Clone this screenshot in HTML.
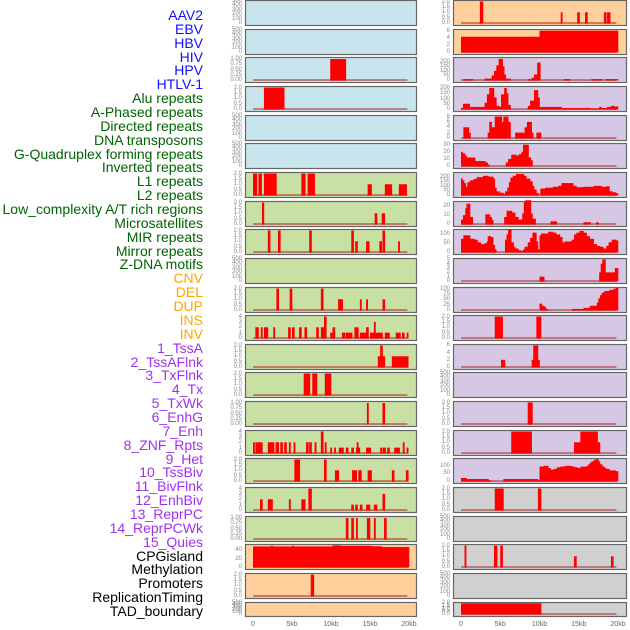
<!DOCTYPE html>
<html><head><meta charset="utf-8">
<style>
html,body{margin:0;padding:0;background:#fff;}
#root{position:relative;width:630px;height:630px;overflow:hidden;font-family:"Liberation Sans",sans-serif;}
.lbl{position:absolute;right:427px;font-size:14px;line-height:14px;white-space:nowrap;}
.tk{position:absolute;font-size:6px;line-height:6px;color:#888;text-align:right;width:30px;}
.xt{position:absolute;font-size:7px;color:#666;width:30px;text-align:center;top:621px;}
</style></head><body>
<div id="root">
<svg id="svg" width="630" height="630" style="position:absolute;left:0;top:0"></svg>
</div>
<script>
// ---- data ----
const labels = ["AAV2","EBV","HBV","HIV","HPV","HTLV-1","Alu repeats","A-Phased repeats","Directed repeats","DNA transposons","G-Quadruplex forming repeats","Inverted repeats","L1 repeats","L2 repeats","Low_complexity A/T rich regions","Microsatellites","MIR repeats","Mirror repeats","Z-DNA motifs","CNV","DEL","DUP","INS","INV","1_TssA","2_TssAFlnk","3_TxFlnk","4_Tx","5_TxWk","6_EnhG","7_Enh","8_ZNF_Rpts","9_Het","10_TssBiv","11_BivFlnk","12_EnhBiv","13_ReprPC","14_ReprPCWk","15_Quies","CPGisland","Methylation","Promoters","ReplicationTiming","TAD_boundary"];
const labelColors = ["#1010ff","#1010ff","#1010ff","#1010ff","#1010ff","#1010ff","#006400","#006400","#006400","#006400","#006400","#006400","#006400","#006400","#006400","#006400","#006400","#006400","#006400","#ffa500","#ffa500","#ffa500","#ffa500","#ffa500","#a030f0","#a030f0","#a030f0","#a030f0","#a030f0","#a030f0","#a030f0","#a030f0","#a030f0","#a030f0","#a030f0","#a030f0","#a030f0","#a030f0","#a030f0","#000","#000","#000","#000","#000"];
const xTicks = [0,5,10,15,20];
const xTickLabels = ["0","5kb","10kb","15kb","20kb"];
const t500 = [0,100,200,300,400,500], t500L = ["0","100","200","300","400","500"];
const t2 = [0,0.5,1,1.5,2], t2L = ["0.0","0.5","1.0","1.5","2.0"];
const t1 = [0,0.25,0.5,0.75,1], t1L = ["0.00","0.25","0.50","0.75","1.00"];
const t4 = [0,1,2,3,4], t4L = ["0","1","2","3","4"];

// left column bars [startKb, endKb, value]
const L2 = [[9.9,11.9,1]];
const L3 = [[1.4,4.0,2]];
const L6 = [[0,0.5,2],[0.7,1.1,2],[1.4,3.0,2],[6.2,6.7,2],[7.0,7.9,2],[14.7,15.2,1],[16.9,17.8,1],[18.7,19.7,1]];
const L7 = [[1.15,1.4,2],[15.6,15.9,1],[16.5,16.9,1]];
const L8 = [[1.9,2.2,2],[3.2,3.5,2],[7.2,7.5,2],[12.6,12.9,2],[13.1,13.4,1],[14.5,14.9,1],[16.2,16.5,1],[16.6,16.9,2],[18.6,18.8,1]];
const L10 = [[3.0,3.3,2],[4.7,5.0,2],[8.7,9.0,2],[10.9,11.5,1],[13.7,13.9,1],[14.5,14.7,1],[16.6,16.9,1]];
const L11 = [[0.3,0.7,2],[1.0,1.2,2],[1.4,1.9,2],[2.6,2.8,2],[4.5,4.8,2],[5.0,5.3,2],[5.9,6.2,2],[6.6,6.9,2],[8.1,8.4,2],[8.7,9.1,2],[9.1,9.4,4],[9.9,10.2,1],[10.2,10.5,2],[11.4,11.8,1],[11.9,12.7,1],[13.0,13.5,2],[13.7,14.5,1],[14.5,14.8,2],[15.0,15.5,1],[15.5,15.7,3],[15.7,16.6,1],[16.9,17.5,1],[18.3,18.9,1],[19.1,19.4,1],[19.7,19.9,1]];
const L12 = [[16.0,16.3,1],[16.3,16.6,2],[16.6,16.9,1],[17.8,19.9,1]];
const L13 = [[6.5,7.3,2],[7.6,8.2,2],[9.2,10.0,2]];
const L14 = [[14.6,14.8,1],[16.6,16.9,1]];
const L15 = [[0,0.15,2],[0.3,1.2,2],[1.9,2.7,2],[2.9,3.3,2],[3.5,3.8,2],[4.0,4.3,2],[4.6,4.8,2],[5.2,5.4,2],[6.8,7.1,2],[7.2,7.5,2],[7.9,8.1,2],[8.7,9.0,4],[9.2,9.4,2],[9.9,10.1,1],[10.4,10.6,1],[11.0,11.6,1],[11.9,12.2,1],[12.6,12.9,1],[13.2,13.7,1],[13.3,13.4,2],[14.5,15.1,1],[16.3,16.5,1],[16.6,17.0,1],[17.2,17.5,1],[18.1,18.8,1],[19.2,19.4,2],[19.7,19.9,1]];
const L16 = [[5.3,6.0,2],[9.1,9.4,2],[10.5,11.0,1],[12.7,13.3,1],[13.5,13.9,1],[14.7,15.2,1],[17.8,18.1,1],[19.6,19.9,1]];
const L17 = [[0.9,1.2,2],[1.9,2.5,2],[4.6,4.8,2],[6.2,6.7,2],[7.1,7.5,4],[12.6,12.9,1],[13.1,13.4,1],[13.7,14.0,1],[14.5,15.0,1],[15.5,15.9,1],[16.6,16.9,3]];
const L18 = [[11.9,12.2,1],[12.6,12.9,1],[13.2,13.4,1],[14.6,15.0,1],[15.5,15.7,1],[16.8,17.1,1]];
const L19 = [[0,2.3,49.5],[2.3,2.5,51],[2.5,5.0,49.5],[5.0,5.2,51],[5.2,10.2,49.5],[10.2,11.2,52],[11.2,15.2,51],[15.2,16.5,50],[16.5,20,48]];
const L20 = [[7.4,7.8,2]];

// right column
const R0 = [[2.4,2.8,2],[12.7,12.9,1],[14.8,15.1,1],[15.8,16.1,1],[18.2,18.5,1],[18.6,19.0,1]];
const R1 = [[0,10,4.3],[10,20,6]];
const R2 = [[0.3,1.5,10],[3.0,3.9,15],[3.9,4.2,50],[4.2,4.5,100],[4.5,4.8,160],[4.8,5.3,230],[5.3,5.5,150],[5.5,5.7,60],[5.7,6.3,15],[8.5,9.0,10],[9.0,9.3,25],[9.3,9.7,60],[9.7,10.1,190],[13.1,13.9,10],[16.6,17.9,10],[18.4,20,10]];
const R3 = [[0,0.25,10],[0.25,1.1,50],[1.1,3.0,20],[3.0,3.3,60],[3.3,3.6,140],[3.6,4.2,200],[4.2,4.5,110],[4.5,4.9,30],[4.9,5.1,20],[5.1,5.5,140],[5.5,5.8,200],[5.8,6.0,150],[6.0,6.3,40],[8.5,8.8,30],[8.8,9.3,80],[9.3,9.8,180],[9.8,10.0,110],[10.0,10.4,20],[10.4,12.8,20],[12.8,16.4,10],[16.4,17.6,5],[17.6,17.9,20],[17.9,18.6,10],[18.6,19.1,20],[19.1,19.5,30],[19.5,20,25]];
const R4 = [[0.3,1.0,4],[1.0,1.2,2],[3.4,3.6,2],[3.6,3.9,6],[3.9,4.3,4],[4.3,5.2,8],[5.2,5.4,6],[5.4,6.0,8],[6.0,6.3,6],[6.9,8.1,2],[8.1,8.4,4],[8.4,9.0,6],[9.0,9.2,2],[9.6,10.2,2]];
const R5 = [[0,0.2,20],[0.2,0.5,18],[0.5,0.7,15],[0.7,1.8,12],[1.8,3.1,7],[3.1,3.4,5],[3.4,3.6,2],[5.7,6.0,5],[6.0,6.4,10],[6.4,7.0,16],[7.0,7.4,15],[7.4,7.7,17],[7.7,7.9,20],[7.9,8.6,30],[8.6,8.9,12],[8.9,9.1,8]];
const R6 = [[0,0.2,180],[0.2,0.4,160],[0.4,0.6,130],[0.6,0.8,90],[0.8,1.1,140],[1.1,1.6,160],[1.6,2.0,175],[2.0,2.8,195],[2.8,3.5,210],[3.5,4.1,200],[4.1,4.3,180],[4.3,4.5,80],[4.5,4.9,40],[4.9,5.4,25],[5.4,5.6,10],[5.6,5.9,40],[5.9,6.1,80],[6.1,6.3,140],[6.3,6.6,190],[6.6,7.0,210],[7.0,8.0,230],[8.0,8.3,210],[8.3,8.8,180],[8.8,9.1,150],[9.1,9.3,100],[9.3,9.6,60],[9.6,9.9,20],[10.1,10.7,70],[10.7,11.7,80],[11.7,12.4,90],[12.4,12.8,100],[12.8,14.3,130],[14.3,14.7,100],[14.7,15.6,85],[15.6,16.9,90],[16.9,17.9,100],[17.9,18.5,90],[18.5,18.9,95],[18.9,19.3,40],[19.3,19.7,30],[19.7,20,20]];
const R7 = [[0,0.25,5],[0.25,0.55,10],[0.55,0.7,18],[0.7,1.15,23],[1.15,1.5,8],[3.1,3.7,11],[3.7,3.9,8],[3.9,4.1,5],[5.5,5.8,8],[5.8,6.5,15],[6.5,6.9,13],[6.9,7.3,8],[7.3,7.8,5],[7.8,8.0,12],[8.0,8.2,25],[8.2,8.9,27],[8.9,9.1,12],[9.1,9.5,6],[11.4,12.2,3],[15.6,16.5,2],[17.2,17.5,2]];
const R8 = [[0,0.3,75],[0.3,1.15,95],[1.15,1.7,75],[1.7,2.1,70],[2.1,2.5,55],[2.5,3.0,45],[3.0,3.3,50],[3.3,3.4,60],[3.4,3.8,90],[3.8,4.1,85],[4.1,4.3,40],[4.3,4.4,15],[5.6,5.8,70],[5.8,6.0,100],[6.0,6.4,130],[6.4,6.7,55],[6.7,6.9,30],[6.9,7.3,20],[7.3,7.7,10],[7.7,7.9,5],[7.9,8.1,15],[8.1,8.5,30],[8.5,8.8,55],[8.8,9.1,80],[9.1,9.6,110],[9.6,9.8,60],[9.8,10.0,15],[10.0,10.2,95],[10.2,11.1,105],[11.1,11.7,115],[11.7,12.1,110],[12.1,12.6,100],[12.6,12.9,85],[12.9,13.2,55],[13.2,14.1,60],[14.1,14.4,70],[14.4,14.7,100],[14.7,15.1,110],[15.1,15.6,120],[15.6,16.0,110],[16.0,16.4,90],[16.4,16.9,75],[16.9,17.3,45],[17.3,17.7,35],[17.7,18.1,30],[18.1,18.5,20],[18.5,18.8,35],[18.8,19.2,55],[19.2,19.8,70],[19.8,20,65]];
const R9 = [[10.0,10.6,1],[17.6,17.8,2],[17.8,18.0,4],[18.0,18.4,5],[18.4,19.6,2],[19.6,20,3]];
const R10 = [[10.0,10.3,30],[10.3,10.6,20],[10.6,10.8,15],[10.8,11.1,5],[14.1,15.6,5],[15.6,16.4,10],[16.4,17.3,20],[17.3,17.5,35],[17.5,17.7,55],[17.7,17.9,70],[17.9,18.1,80],[18.1,18.3,85],[18.3,18.9,90],[18.9,19.4,95],[19.4,19.7,100],[19.7,20,104]];
const R11 = [[4.3,5.3,2],[9.6,10.2,2]];
const R12 = [[5.1,5.6,2],[9.0,9.2,2],[9.2,9.8,6],[9.8,10.0,2]];
const R14 = [[8.5,9.1,2]];
const R15 = [[6.4,9.0,2],[14.4,15.2,1],[15.2,17.4,2],[17.4,17.7,1]];
const R16 = [[0,0.7,20],[0.7,3.5,13],[3.5,3.8,5],[5.4,9.8,13],[9.8,10.0,5],[10.0,10.5,95],[10.5,11.1,100],[11.1,11.4,85],[11.4,11.8,75],[11.8,12.2,80],[12.2,12.6,90],[12.6,13.2,95],[13.2,14.1,100],[14.1,14.5,95],[14.5,14.9,90],[14.9,15.2,85],[15.2,16.0,95],[16.0,16.2,100],[16.2,16.4,110],[16.4,16.6,120],[16.6,16.9,130],[16.9,17.2,140],[17.2,17.5,145],[17.5,17.7,130],[17.7,18.0,110],[18.0,18.3,95],[18.3,18.5,85],[18.5,18.9,80],[18.9,19.7,70],[19.7,20,65]];
const R17 = [[4.3,5.4,2],[9.8,10.2,2]];
const R19 = [[0.45,0.65,2],[4.2,4.6,2],[5.0,5.3,2],[14.4,14.7,1],[19.1,19.4,1]];
const R21 = [[0,10.2,2]];

const leftPanels = [
 [500,t500,t500L,null],[500,t500,t500L,null],[1.05,t1,t1L,L2],[2.05,t2,t2L,L3],[500,t500,t500L,null],[500,t500,t500L,null],
 [2.05,t2,t2L,L6],[2.05,t2,t2L,L7],[2.05,t2,t2L,L8],[500,t500,t500L,null],[2.05,t2,t2L,L10],[4.1,t4,t4L,L11],
 [2.05,t2,t2L,L12],[2.05,t2,t2L,L13],[1.05,t1,t1L,L14],[4.1,t4,t4L,L15],[2.05,t2,t2L,L16],[4.1,t4,t4L,L17],
 [1.05,t1,t1L,L18],[53,[0,20,40],["0","20","40"],L19],[2.05,t2,t2L,L20],[500,t500,t500L,null]];
const rightPanels = [
 [2.05,t2,t2L,R0],[6.2,[0,2,4,6],["0","2","4","6"],R1],[240,[0,50,100,150,200],["0","50","100","150","200"],R2],
 [210,[0,50,100,150,200],["0","50","100","150","200"],R3],[8.2,[0,2,4,6,8],["0","2","4","6","8"],R4],
 [31,[0,10,20,30],["0","10","20","30"],R5],[240,[0,50,100,150,200],["0","50","100","150","200"],R6],
 [25,[0,10,20],["0","10","20"],R7],[125,[0,50,100],["0","50","100"],R8],[5.1,[0,1,2,3,4,5],["0","1","2","3","4","5"],R9],
 [104,[0,25,50,75,100],["0","25","50","75","100"],R10],[2.05,t2,t2L,R11],[6.1,[0,2,4,6],["0","2","4","6"],R12],
 [500,t500,t500L,null],[2.05,t2,t2L,R14],[2.05,t2,t2L,R15],[145,[0,50,100],["0","50","100"],R16],
 [2.05,t2,t2L,R17],[500,t500,t500L,null],[2.05,t2,t2L,R19],[500,t500,t500L,null],[2.05,t2,t2L,R21]];
const leftBg = ["#c8e4ec","#c8e4ec","#c8e4ec","#c8e4ec","#c8e4ec","#c8e4ec","#c8e0a4","#c8e0a4","#c8e0a4","#c8e0a4","#c8e0a4","#c8e0a4","#c8e0a4","#c8e0a4","#c8e0a4","#c8e0a4","#c8e0a4","#c8e0a4","#c8e0a4","#ffd09c","#ffd09c","#ffd09c"];
const rightBg = ["#ffd09c","#ffd09c","#d6c8e4","#d6c8e4","#d6c8e4","#d6c8e4","#d6c8e4","#d6c8e4","#d6c8e4","#d6c8e4","#d6c8e4","#d6c8e4","#d6c8e4","#d6c8e4","#d6c8e4","#d6c8e4","#d6c8e4","#d0d0d0","#d0d0d0","#d0d0d0","#d0d0d0","#d0d0d0"];

// ---- drawing ----
const NS = "http://www.w3.org/2000/svg";
const svg = document.getElementById('svg');
const root = document.getElementById('root');
function rowTop(i){ return Math.round(i*28.65); }
function rowH(i){ return i===21 ? 14 : 25; }
const cols = [
 {px:245, pw:171, x0:253, k:7.8, tickRight:242},
 {px:453, pw:173, x0:461, k:7.85, tickRight:450}];
function xs(c,kb){ return c.x0 + kb*c.k; }

labels.forEach((t,i)=>{
  const d=document.createElement('div');
  d.className='lbl';
  d.style.top=(8+i*13.86)+'px';
  d.style.color=labelColors[i];
  d.textContent=t;
  
  
  root.appendChild(d);
});

[leftPanels,rightPanels].forEach((panels,ci)=>{
  const c=cols[ci];
  const bgs = ci===0?leftBg:rightBg;
  panels.forEach((p,i)=>{
    const top=rowTop(i), h=rowH(i);
    const base=top+h-2, ph=h-3;
    const ymax=p[0];
    const ys=v=>base - v/ymax*ph;
    const g=document.createElementNS(NS,'g');
    
    
    svg.appendChild(g);
    const r=document.createElementNS(NS,'rect');
    r.setAttribute('x',c.px+0.5); r.setAttribute('y',top+0.5);
    r.setAttribute('width',c.pw); r.setAttribute('height',h);
    r.setAttribute('fill',bgs[i]); r.setAttribute('stroke','#666'); r.setAttribute('stroke-width','1.2');
    
    
    g.appendChild(r);
    if(p[3]){
      const bl=document.createElementNS(NS,'rect');
      bl.setAttribute('x',xs(c,0)); bl.setAttribute('y',base-1);
      bl.setAttribute('width',19.8*c.k); bl.setAttribute('height',2);
      bl.setAttribute('fill','#b03030'); bl.setAttribute('opacity','0.55');
      
      
      g.appendChild(bl);
      p[3].forEach(b=>{
        const br=document.createElementNS(NS,'rect');
        const x1=xs(c,b[0]), x2=xs(c,b[1]);
        br.setAttribute('x',x1); br.setAttribute('width',Math.max(1.5,x2-x1)+0.3);
        br.setAttribute('y',ys(b[2])); br.setAttribute('height',base-ys(b[2])+0.5);
        br.setAttribute('fill','#ff0000');
        
        
        g.appendChild(br);
      });
    }
    p[1].forEach((v,j)=>{
      const d=document.createElement('div');
      d.className='tk';
      d.style.left=(c.tickRight-30)+'px';
      d.style.top=(ys(v)-3)+'px';
      d.textContent=p[2][j];
      
      
      root.appendChild(d);
    });
  });
  xTicks.forEach((v,j)=>{
    const d=document.createElement('div');
    d.className='xt';
    d.style.left=(xs(c,v)-15)+'px';
    d.textContent=xTickLabels[j];
    
    
    root.appendChild(d);
  });
});
</script>
</body></html>
